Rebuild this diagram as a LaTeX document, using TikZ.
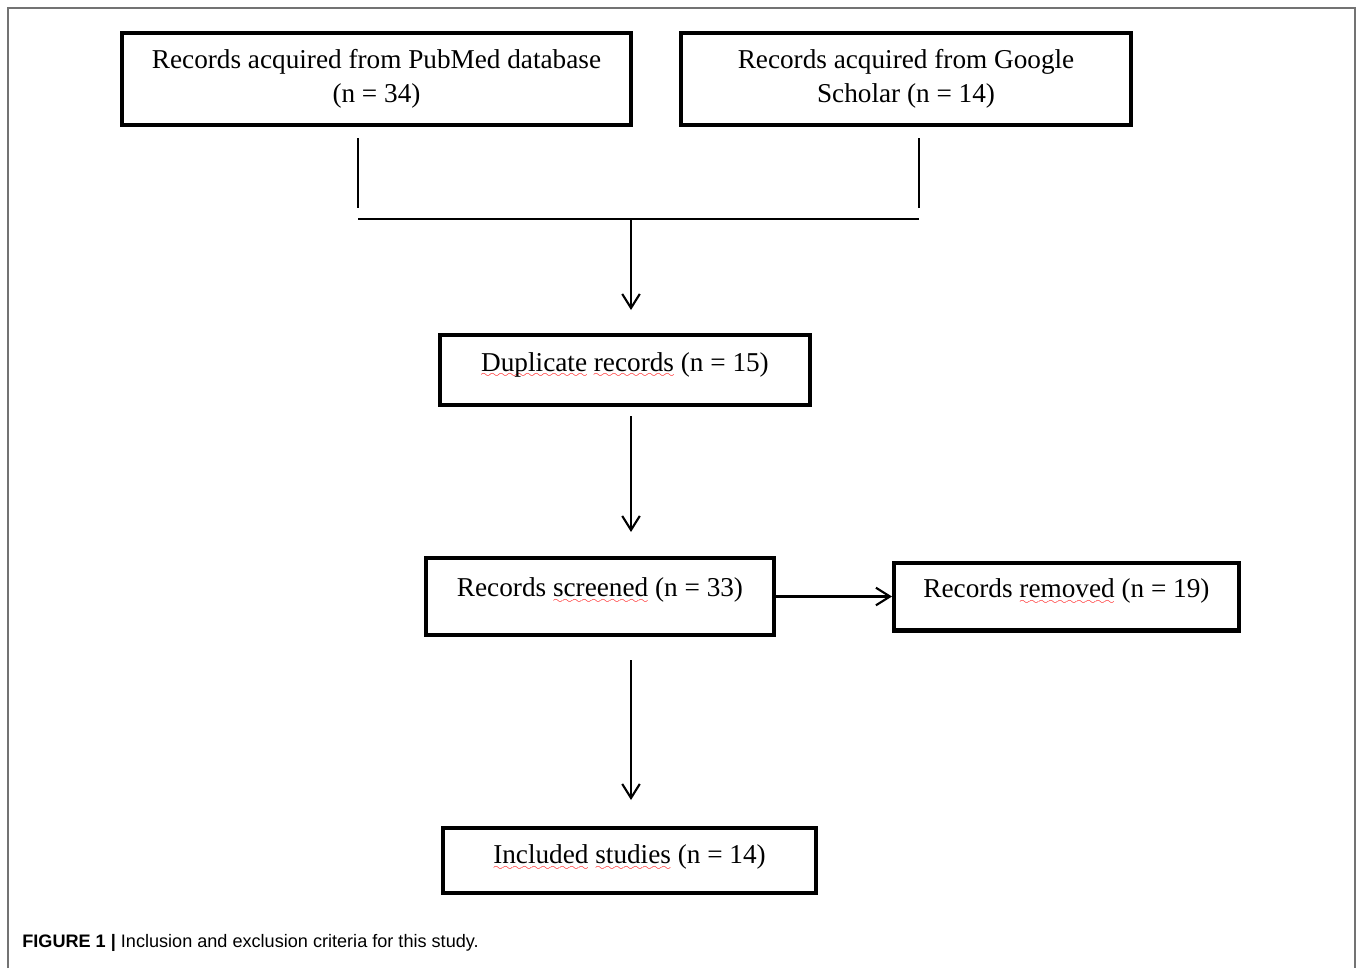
\documentclass[tikz,border=0pt]{standalone}
\usepackage{fontspec}
\setmainfont{Liberation Serif}
\newfontfamily\capfont{Liberation Sans}
\usetikzlibrary{positioning, arrows.meta}

% red wavy underline
\font\wavefont=lasy6
\newcommand{\squig}[1]{\setbox0=\hbox{#1}\rlap{\smash{\textcolor{red}{\lower3.5pt\hbox to \wd0{\xleaders\hbox{\wavefont\char58}\hfil}}}}#1}

\begin{document}
\begin{tikzpicture}[x=0.02cm, y=-0.02cm,
    >={Straight Barb[length=8pt, width=10pt]},
    box/.style={draw, line width=2.3pt, rectangle, inner sep=0pt, align=center, font=\fontsize{15.5}{19.3}\selectfont},
    raise/.style={text height=10.7pt, text depth=#1},
    conn/.style={line width=1.2pt},
    frame/.style={draw=black!55, line width=1pt}]
    \useasboundingbox (0,0) rectangle (1358,968);
    \draw[frame] (8,968) |- (1355,8) -- (1355,968);

    \node (pubmed) [box, minimum width=10.18cm, minimum height=1.84cm] at (376.5,79) {Records acquired from PubMed database\\(n = 34)};
    \node (scholar) [box, minimum width=9cm, minimum height=1.84cm] at (906,79) {Records acquired from Google\\Scholar (n = 14)};
    \coordinate (lpub) at (358,208);
    \coordinate (lsch) at (919,208);
    \coordinate (join) at (631,219);
    \node (dup) [box, raise=9.1pt, minimum width=7.4cm, minimum height=1.4cm] at (625,370) {\squig{Duplicate} \squig{records} (n = 15)};
    \node (scr) [box, raise=10.2pt, minimum width=6.96cm, minimum height=1.54cm] at (600,596.5) {Records \squig{screened} (n = 33)};
    \node (rem) [box, raise=9.1pt, minimum width=6.9cm, minimum height=1.36cm, right=2.32cm of scr] {Records \squig{removed} (n = 19)};
    \node (incl) [box, raise=6.8pt, minimum width=7.46cm, minimum height=1.3cm] at (629.5,860.5) {\squig{Included} \squig{studies} (n = 14)};
    \node (caption) [anchor=base west, inner sep=0pt, font=\capfont\fontsize{10.3}{12}\selectfont] at (22,947) {\textbf{FIGURE 1 |} Inclusion and exclusion criteria for this study.};

    \draw[conn, shorten <=0.22cm] (pubmed.south -| lpub) -- (lpub);
    \draw[conn, shorten <=0.22cm] (scholar.south -| lsch) -- (lsch);
    \draw[conn] (lpub |- join) -- (lsch |- join);
    \draw[conn, ->, shorten >=0.46cm] (join) -- (dup.north -| join);
    \draw[conn, ->, shorten <=0.18cm, shorten >=0.48cm] (dup.south -| join) -- (scr.north -| join);
    \draw[conn, ->] (scr.east) -- (rem.west);
    \draw[conn, ->, shorten <=0.46cm, shorten >=0.52cm] (scr.south -| join) -- (incl.north -| join);
\end{tikzpicture}
\end{document}
